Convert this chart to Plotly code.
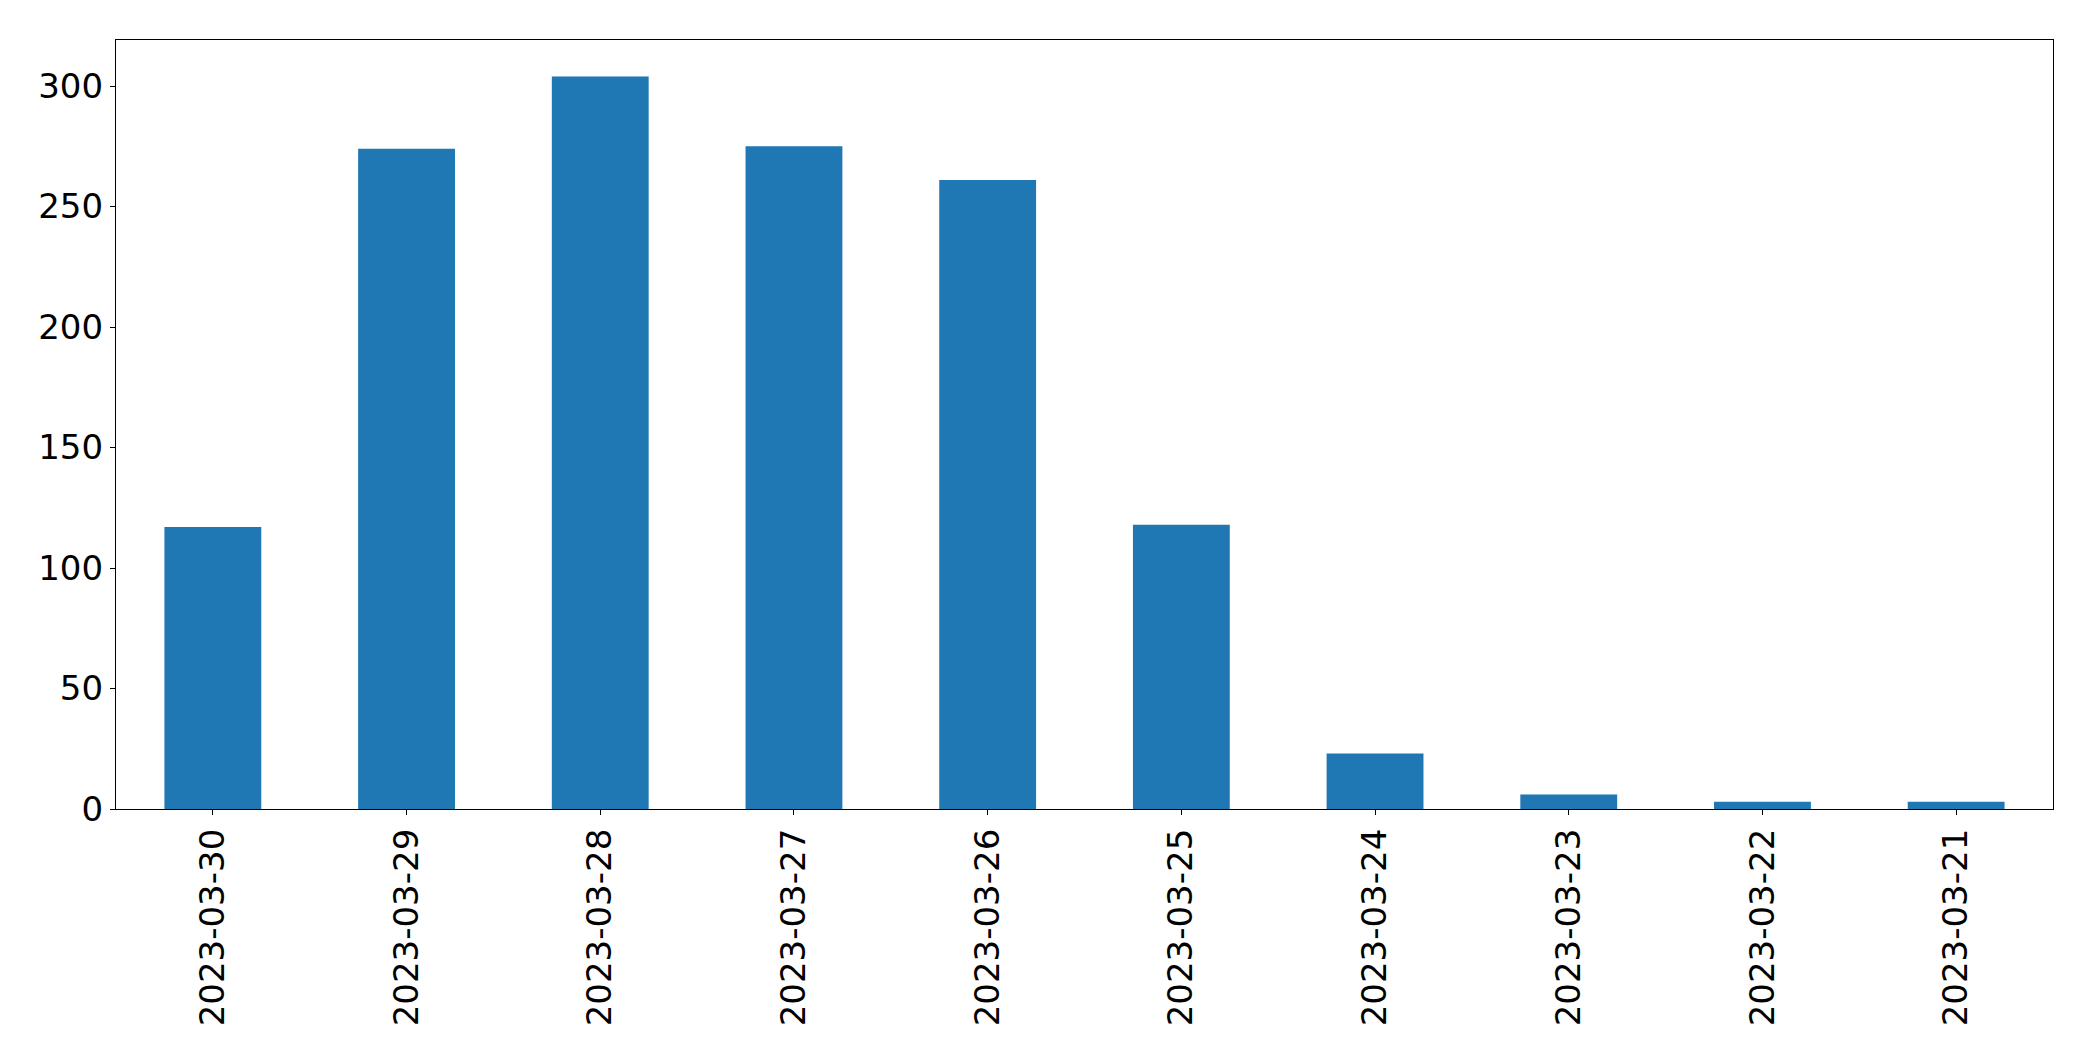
import plotly.graph_objects as go

dates = ["2023-03-30", "2023-03-29", "2023-03-28", "2023-03-27", "2023-03-26",
         "2023-03-25", "2023-03-24", "2023-03-23", "2023-03-22", "2023-03-21"]
counts = [117, 274, 304, 275, 261, 118, 23, 6, 3, 3]
y_ticks = [0, 50, 100, 150, 200, 250, 300]

fig = go.Figure(go.Bar(x=dates, y=counts, width=0.5, marker=dict(color="#1f77b4", line=dict(width=0))))

font = dict(family="DejaVu Sans", size=34, color="black")
fig.update_layout(
    width=2077, height=1045,
    margin=dict(l=108, r=32, t=32, b=244),
    plot_bgcolor="white", paper_bgcolor="white",
    showlegend=False,
    font=font,
)
fig.update_xaxes(
    type="category", range=[-0.5, len(dates) - 0.5],
    tickangle=-90, tickfont=font,
    showline=True, linecolor="black", linewidth=1.3, mirror=True,
    ticks="outside", ticklen=5, tickcolor="black", tickwidth=1.3,
    showgrid=False, zeroline=False,
)
fig.update_yaxes(
    range=[0, 319.1], tickvals=y_ticks, tickfont=font,
    showline=True, linecolor="black", linewidth=1.3, mirror=True,
    ticks="outside", ticklen=5, tickcolor="black", tickwidth=1.3,
    showgrid=False, zeroline=False,
)
fig.write_html("out.html")
